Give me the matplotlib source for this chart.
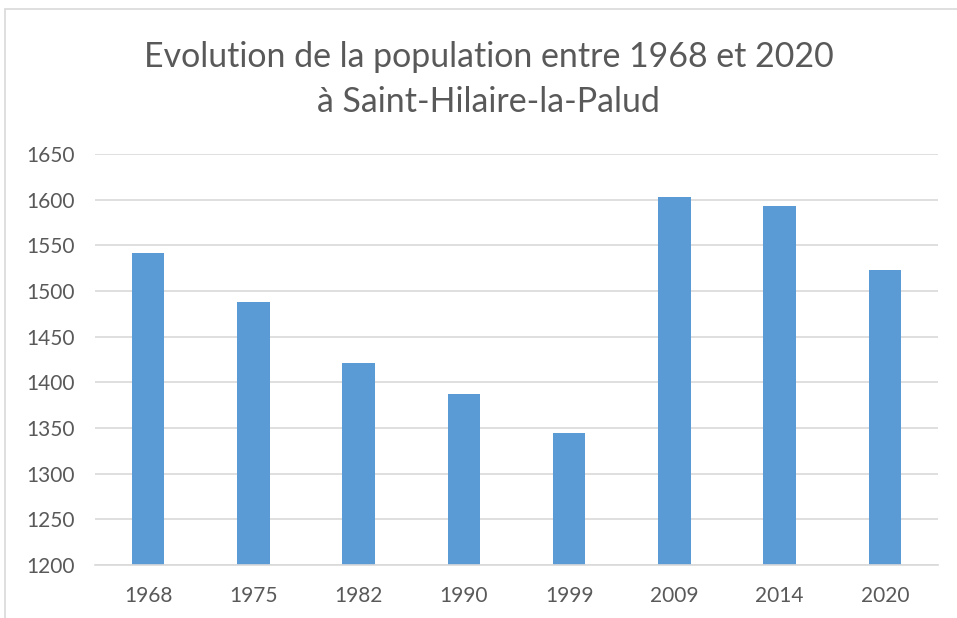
import matplotlib.pyplot as plt
from matplotlib.patches import Rectangle

# Population values
years = ["1968", "1975", "1982", "1990", "1999", "2009", "2014", "2020"]
population = [1542, 1488, 1421, 1387, 1344, 1603, 1593, 1523]
yticks = [1200, 1250, 1300, 1350, 1400, 1450, 1500, 1550, 1600, 1650]

TEXT = "#595959"
GRID = "#D9D9D9"
BAR = "#5B9BD5"

plt.rcParams["font.family"] = ["Lato", "DejaVu Sans"]

fig = plt.figure(figsize=(9.57, 6.18), dpi=100)
ax = fig.add_axes([0.0997, 0.0858, 0.880, 0.665])

# light chart frame like the spreadsheet export
fig.patches.append(Rectangle((5 / 957, -0.05), 1.2, 1 - 9 / 618 + 0.05,
                             transform=fig.transFigure, fill=False,
                             edgecolor=GRID, linewidth=1.2))

x = range(len(years))
ax.bar(x, population, width=0.31, color=BAR, zorder=2)

ax.set_xlim(-0.5, len(years) - 0.5)
ax.set_ylim(1200, 1650)
ax.set_yticks(yticks)
ax.set_xticks(list(x))
ax.set_xticklabels(years)
ax.grid(axis="y", color=GRID, linewidth=1.2, zorder=0)
ax.tick_params(length=0, labelsize=15, labelcolor=TEXT)
ax.tick_params(axis="y", pad=15)
ax.tick_params(axis="x", pad=15)
for side in ("top", "right", "left"):
    ax.spines[side].set_visible(False)
ax.spines["bottom"].set_color(GRID)
ax.spines["bottom"].set_linewidth(1.2)

fig.text(0.5105, 0.871, "Evolution de la population entre 1968 et 2020\nà Saint-Hilaire-la-Palud",
         ha="center", va="center", fontsize=24.4, color=TEXT, linespacing=1.5)

fig.savefig("out.png", dpi=100)
